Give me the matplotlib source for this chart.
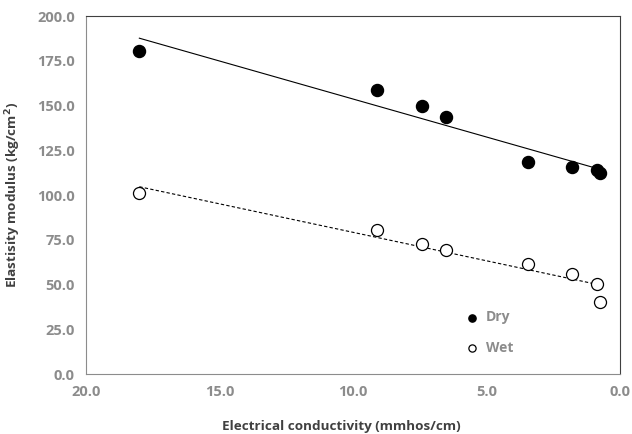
import matplotlib.pyplot as plt
import numpy as np

# conductivity (mmhos/cm)
ec = [18.0, 9.1, 7.4, 6.5, 3.45, 1.8, 0.86, 0.75]
dry = [180.4, 158.7, 149.7, 143.6, 118.4, 115.6, 114.0, 112.5]
wet = [101.0, 80.4, 72.6, 69.3, 61.4, 55.9, 50.3, 40.5]

plt.rcParams['font.family'] = ['Open Sans', 'DejaVu Sans']
plt.rcParams['font.weight'] = 'bold'

fig = plt.figure(figsize=(6.32, 4.34), dpi=100)
ax = fig.add_axes([0.136, 0.138, 0.845, 0.825])

ax.scatter(ec, dry, s=75, c='black', edgecolors='black', label='Dry', zorder=3)
ax.scatter(ec, wet, s=75, facecolors='white', edgecolors='black', linewidths=0.9, label='Wet', zorder=3)

# trend lines
x = np.array(ec)
xl = np.array([x.max(), x.min()])
p1 = np.polyfit(x, dry, 1)
p2 = np.polyfit(x, wet, 1)
ax.plot(xl, np.polyval(p1, xl), color='black', lw=0.8)
ax.plot(xl, np.polyval(p2, xl), color='black', lw=0.8, ls=(0, (3, 2)))

ax.set_xlim(20, 0)
ax.set_ylim(0, 200)
ax.set_xticks([20, 15, 10, 5, 0])
ax.set_yticks(np.arange(0, 201, 25))
ax.xaxis.set_major_formatter(plt.FormatStrFormatter('%.1f'))
ax.yaxis.set_major_formatter(plt.FormatStrFormatter('%.1f'))
ax.tick_params(length=0, labelsize=10.5, labelcolor='#8c8c8c', pad=8)
for t in ax.get_xticklabels() + ax.get_yticklabels():
    t.set_fontweight('bold')

for s in ['left', 'bottom']:
    ax.spines[s].set_color('#8c8c8c')
for s in ['top', 'right']:
    ax.spines[s].set_color('#404040')

ax.set_xlabel('Electrical conductivity (mmhos/cm)', fontsize=9.7, color='#404040',
              fontweight='bold', labelpad=12)
ax.xaxis.set_label_coords(0.478, -0.128)
ax.set_ylabel('Elastisity modulus (kg/cm$^\\mathbf{2}$)', fontsize=9.7, color='#404040',
              fontweight='bold', labelpad=10)

leg = ax.legend(loc='upper left', bbox_to_anchor=(0.674, 0.213), frameon=False,
                handletextpad=0.0, labelspacing=1.2, markerscale=0.6,
                prop={'size': 10, 'weight': 'bold'})
for t in leg.get_texts():
    t.set_color('#8c8c8c')

fig.savefig('out.png', dpi=100)
